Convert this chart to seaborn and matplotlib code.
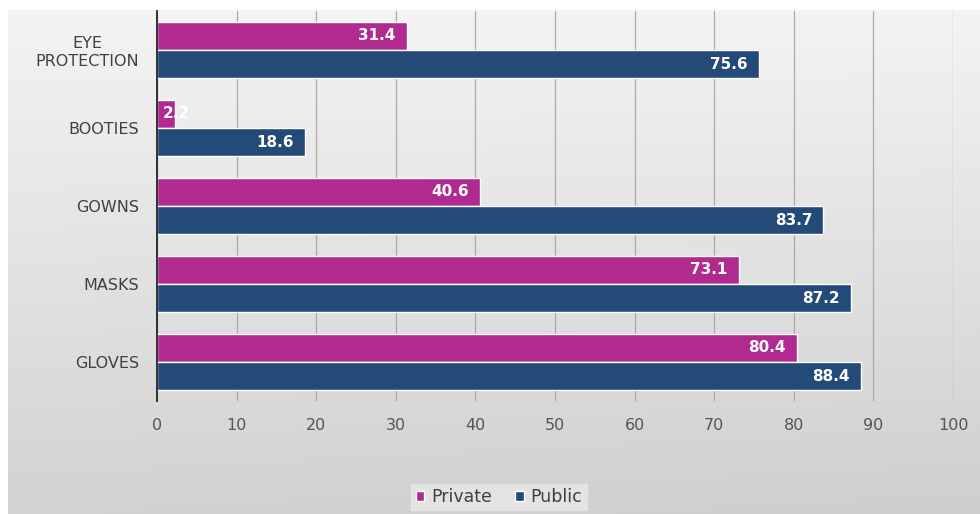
import numpy as np
import pandas as pd
import matplotlib
matplotlib.use("Agg")
import matplotlib.pyplot as plt
import seaborn as sns

categories = ["EYE\nPROTECTION", "BOOTIES", "GOWNS", "MASKS", "GLOVES"]
private_vals = [31.4, 2.2, 40.6, 73.1, 80.4]
public_vals = [75.6, 18.6, 83.7, 87.2, 88.4]
series = ["Private", "Public"]
x_ticks = [0, 10, 20, 30, 40, 50, 60, 70, 80, 90, 100]

df = pd.DataFrame({
    "category": categories * 2,
    "value": private_vals + public_vals,
    "series": ["Private"] * len(categories) + ["Public"] * len(categories),
})

sns.set_theme(style="white")
plt.rcParams["font.family"] = ["DejaVu Sans"]

W, H = 980, 514
fig = plt.figure(figsize=(W / 100, H / 100), dpi=100)
fig.patch.set_facecolor("white")

# gradient background panel (light at top, grey at bottom)
bg = fig.add_axes([8 / W, 0, (W - 8) / W, (H - 10) / H], zorder=0)
yy = np.linspace(0, 1, 200)[:, None]
xx = np.linspace(0, 1, 300)[None, :]
lum = 0.955 - 0.13 * yy - 0.015 * xx * yy + 0.0 * xx
img = np.dstack([lum, lum, lum])
bg.imshow(img, aspect="auto", extent=[0, 1, 1, 0], interpolation="bilinear")
bg.set_axis_off()

ax = fig.add_axes([157 / W, 1 - 401 / H, (953 - 157) / W, (401 - 11) / H], zorder=1)
ax.patch.set_alpha(0)

palette = {"Private": "#B02A8F", "Public": "#244A78"}
sns.barplot(data=df, y="category", x="value", hue="series", hue_order=series,
            order=categories, palette=palette, orient="h", width=0.73,
            edgecolor="white", linewidth=1.0, saturation=1, ax=ax, legend=True)

ax.set_xlim(0, 100)
ax.set_ylim(len(categories) - 0.5, -0.5)
ax.set_xticks(x_ticks)
ax.set_xticklabels([str(t) for t in x_ticks])
ax.grid(axis="x", color="#aaaaaa", linewidth=0.9)
ax.set_axisbelow(True)
for s in ["top", "right", "bottom"]:
    ax.spines[s].set_visible(False)
ax.spines["left"].set_color("#222222")
ax.spines["left"].set_linewidth(1.3)
ax.tick_params(axis="x", length=0, pad=12, labelsize=11.5, labelcolor="#555555")
ax.tick_params(axis="y", length=0, pad=13, labelsize=11.5, labelcolor="#404040")
for lab in ax.get_yticklabels():
    lab.set_multialignment("center")
ax.set_xlabel("")
ax.set_ylabel("")

# value labels
for cont in ax.containers:
    for bar in cont:
        v = bar.get_width()
        yc = bar.get_y() + bar.get_height() / 2
        ax.annotate(f"{v:.1f}", xy=(max(v, 5.5), yc), xytext=(-8, 0),
                    textcoords="offset points", ha="right", va="center",
                    color="white", fontsize=11, fontweight="bold")

leg = ax.legend(loc="center", bbox_to_anchor=(499 / W, 1 - 497 / H),
                bbox_transform=fig.transFigure, ncol=2, frameon=True,
                fontsize=12.5, handlelength=0.5, handleheight=0.5,
                handletextpad=0.4, columnspacing=1.3, borderpad=0.25)
leg.get_frame().set_facecolor("#e8e8e8")
leg.get_frame().set_edgecolor("#e8e8e8")
leg.get_frame().set_boxstyle("square", pad=0)
for t in leg.get_texts():
    t.set_color("#404040")

fig.savefig("out.png", dpi=100)
